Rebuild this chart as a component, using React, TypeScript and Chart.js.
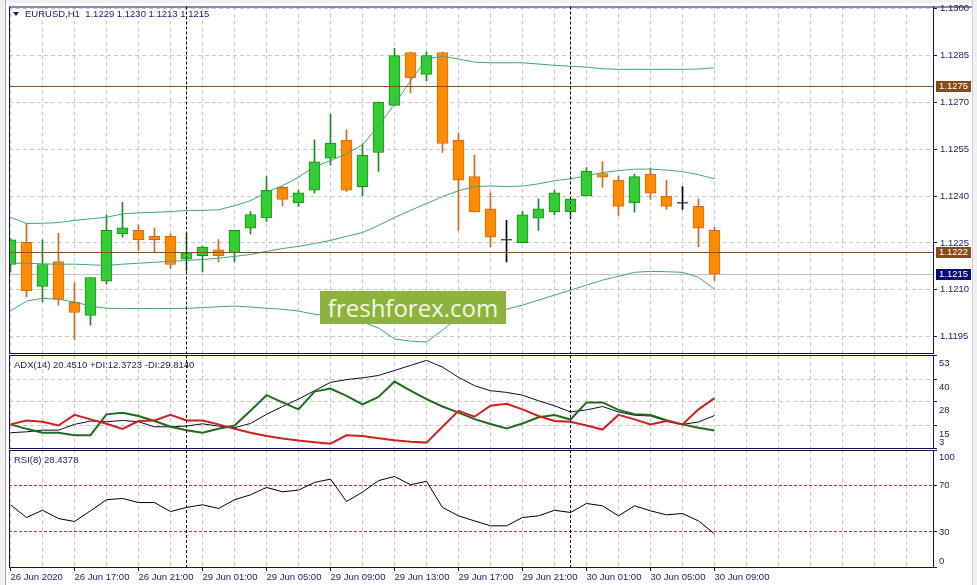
import React, { useEffect, useRef } from 'react';
import { Chart, registerables } from 'chart.js';

Chart.register(...registerables);

// ---------------- data ----------------
const symbolName = 'EURUSD';
const timeframe = 'H1';
const timeLabels: string[] = [
  '26 Jun 2020', '26 Jun 17:00', '26 Jun 21:00', '29 Jun 01:00', '29 Jun 05:00', '29 Jun 09:00',
  '29 Jun 13:00', '29 Jun 17:00', '29 Jun 21:00', '30 Jun 01:00', '30 Jun 05:00', '30 Jun 09:00',
];
const labelEvery = 4; // bars between time labels
const daySeparators = [11, 35]; // first bars of 29 Jun and 30 Jun

const openPrices = [
  1.12181, 1.12252, 1.12111, 1.12190, 1.12060, 1.12018, 1.12128, 1.12279, 1.12290, 1.12271,
  1.12271, 1.12198, 1.12209, 1.12228, 1.12219, 1.12297, 1.12330, 1.12428, 1.12378, 1.12419,
  1.12521, 1.12579, 1.12430, 1.12539, 1.12690, 1.12859, 1.12789, 1.12859, 1.12579, 1.12462,
  1.12359, 1.12260, 1.12251, 1.12329, 1.12349, 1.12349, 1.12400, 1.12472, 1.12451, 1.12378,
  1.12470, 1.12400, 1.12378, 1.12367, 1.12290,
];
const highPrices = [
  1.12265, 1.12311, 1.12260, 1.12281, 1.12122, 1.12139, 1.12340, 1.12380, 1.12309, 1.12298,
  1.12279, 1.12280, 1.12240, 1.12261, 1.12290, 1.12350, 1.12462, 1.12430, 1.12419, 1.12580,
  1.12661, 1.12611, 1.12566, 1.12700, 1.12872, 1.12860, 1.12860, 1.12860, 1.12601, 1.12531,
  1.12410, 1.12322, 1.12350, 1.12391, 1.12419, 1.12391, 1.12491, 1.12510, 1.12463, 1.12470,
  1.12490, 1.12451, 1.12430, 1.12391, 1.12300,
];
const lowPrices = [
  1.12157, 1.12077, 1.12061, 1.12051, 1.11940, 1.11987, 1.12118, 1.12268, 1.12226, 1.12218,
  1.12168, 1.12160, 1.12157, 1.12189, 1.12189, 1.12279, 1.12319, 1.12369, 1.12367, 1.12410,
  1.12499, 1.12415, 1.12401, 1.12479, 1.12690, 1.12730, 1.12768, 1.12539, 1.12290, 1.12349,
  1.12237, 1.12189, 1.12250, 1.12290, 1.12340, 1.12329, 1.12400, 1.12428, 1.12338, 1.12348,
  1.12389, 1.12357, 1.12357, 1.12237, 1.12130,
];
const closePrices = [
  1.12260, 1.12097, 1.12181, 1.12069, 1.12028, 1.12139, 1.12290, 1.12298, 1.12260, 1.12260,
  1.12181, 1.12219, 1.12237, 1.12209, 1.12290, 1.12341, 1.12419, 1.12389, 1.12410, 1.12509,
  1.12569, 1.12419, 1.12531, 1.12700, 1.12849, 1.12778, 1.12849, 1.12568, 1.12451, 1.12349,
  1.12268, 1.12260, 1.12340, 1.12359, 1.12410, 1.12391, 1.12480, 1.12460, 1.12367, 1.12462,
  1.12409, 1.12367, 1.12378, 1.12297, 1.12150,
];

const bbUpper = [
  1.12332, 1.12312, 1.12313, 1.12315, 1.12322, 1.12327, 1.12332, 1.12343, 1.12346, 1.12348,
  1.12350, 1.12354, 1.12354, 1.12356, 1.12369, 1.12385, 1.12412, 1.12433, 1.12460, 1.12494,
  1.12513, 1.12535, 1.12564, 1.12624, 1.12694, 1.12768, 1.12838, 1.12847, 1.12838, 1.12828,
  1.12826, 1.12826, 1.12826, 1.12822, 1.12818, 1.12815, 1.12812, 1.12807, 1.12805, 1.12805,
  1.12805, 1.12805, 1.12805, 1.12806, 1.12810,
];
const bbMiddle = [
  1.12185, 1.12185, 1.12183, 1.12182, 1.12182, 1.12180, 1.12178, 1.12182, 1.12185, 1.12188,
  1.12191, 1.12194, 1.12197, 1.12201, 1.12207, 1.12213, 1.12223, 1.12232, 1.12239, 1.12248,
  1.12258, 1.12271, 1.12283, 1.12306, 1.12331, 1.12354, 1.12376, 1.12398, 1.12417, 1.12430,
  1.12432, 1.12430, 1.12432, 1.12439, 1.12449, 1.12455, 1.12465, 1.12475, 1.12481, 1.12486,
  1.12486, 1.12483, 1.12478, 1.12468, 1.12455,
];
const bbLower = [
  1.12032, 1.12064, 1.12073, 1.12070, 1.12061, 1.12048, 1.12041, 1.12040, 1.12040, 1.12040,
  1.12040, 1.12041, 1.12043, 1.12046, 1.12048, 1.12045, 1.12041, 1.12038, 1.12032, 1.12022,
  1.12016, 1.12010, 1.11997, 1.11978, 1.11943, 1.11936, 1.11933, 1.11971, 1.12013, 1.12029,
  1.12035, 1.12038, 1.12051, 1.12067, 1.12083, 1.12099, 1.12115, 1.12131, 1.12143, 1.12156,
  1.12159, 1.12158, 1.12156, 1.12140, 1.12102,
];

const adxLine = [
  11.2, 11.7, 12.6, 12.6, 15.7, 17.5, 17.1, 17.8, 17.1, 14.4,
  14.4, 14.8, 16.0, 14.8, 13.9, 16.2, 21.1, 25.3, 29.3, 33.8,
  38.3, 39.8, 40.7, 42.0, 44.7, 47.4, 50.1, 46.5, 41.0, 36.5,
  33.8, 32.9, 31.4, 28.4, 25.7, 22.4, 23.5, 25.3, 22.4, 20.6,
  20.2, 17.5, 15.7, 17.0, 20.4510,
];
const plusDI = [
  15.7, 13.3, 11.2, 11.2, 9.9, 9.9, 21.1, 22.0, 20.2, 17.5,
  14.4, 12.6, 11.2, 13.3, 15.1, 23.0, 31.4, 27.5, 23.8, 33.3,
  35.0, 31.0, 26.5, 30.5, 38.7, 33.8, 29.3, 25.3, 22.0, 18.5,
  15.9, 13.5, 16.2, 19.5, 20.7, 18.3, 27.5, 27.5, 23.5, 21.2,
  20.7, 18.0, 15.7, 13.9, 12.3723,
];
const minusDI = [
  15.7, 17.8, 17.1, 15.1, 20.8, 18.4, 16.0, 13.3, 17.5, 17.8,
  20.8, 17.8, 17.8, 15.7, 13.3, 11.2, 9.4, 8.1, 7.0, 6.1,
  5.3, 9.8, 9.5, 8.3, 7.2, 6.4, 5.9, 14.4, 23.0, 19.8,
  25.7, 26.8, 23.8, 20.2, 17.5, 17.1, 15.1, 12.9, 20.8, 18.4,
  15.7, 17.5, 15.7, 23.8, 29.8140,
];
const rsiLine = [
  53.2, 42.3, 48.5, 41.4, 38.9, 48.0, 57.5, 58.6, 55.1, 55.1,
  47.4, 50.9, 53.2, 50.0, 57.5, 61.7, 68.0, 64.3, 65.7, 72.3,
  75.1, 56.0, 64.0, 73.8, 77.4, 70.3, 73.2, 50.9, 43.7, 39.4,
  35.2, 35.2, 42.3, 43.7, 48.5, 46.6, 54.3, 52.3, 43.7, 52.3,
  48.0, 44.6, 45.7, 39.4, 28.4378,
];

const priceTicks = [1.13, 1.1285, 1.127, 1.1255, 1.124, 1.1225, 1.121, 1.1195];
const priceMax = 1.13006;
const priceMin = 1.11898;
const levelLines = [1.1275, 1.1222];
const adxTicks = [53, 40, 28, 15, 3];
const rsiTicks = [100, 70, 30, 0];
const rsiLevels = [70, 30];

// ---------------- style / layout ----------------
const W = 977;
const H = 585;
const LEFT = 9;
const AXIS_W = 44;
const BAR_PX = 16;
const X_MIN = -1.5 / BAR_PX;
const X_MAX = X_MIN + (W - AXIS_W - LEFT) / BAR_PX;
const MAIN = { top: 5, bottom: 353 };
const ADXP = { top: 355, bottom: 448 };
const RSIP = { top: 450, bottom: 567 };
const TIME_AXIS_H = 18;

const NAVY = '#1c1c64';
const FRAME = '#12125e';
const GRID = '#c8c8c8';
const FONT = '"Liberation Sans", Arial, sans-serif';
const FONT_PX = 9.5;
const GREEN_FILL = '#32cd32';
const GREEN_EDGE = '#1f8a1f';
const ORANGE_FILL = '#ff8c00';
const ORANGE_EDGE = '#d2691e';
const BAND = '#3fa877';
const LEVEL_COLOR = '#86531f';
const TAG_BROWN = '#8a4b1c';
const TAG_NAVY = '#0a0a78';
const BID_COLOR = '#c4c4c4';

const crisp = (v: number) => Math.floor(v) + 0.5;
const series = (arr: number[]) => arr.map((y, i) => ({ x: i, y }));
const isLabelBar = (v: number) => v % labelEvery === 0 && v / labelEvery < timeLabels.length;

function xScale(withLabels: boolean, height: number): any {
  return {
    type: 'linear',
    min: X_MIN,
    max: X_MAX,
    offset: false,
    afterBuildTicks: (s: any) => {
      const t: any[] = [];
      for (let v = 0; v <= X_MAX; v += 2) t.push({ value: v });
      s.ticks = t;
    },
    afterFit: (s: any) => {
      s.height = height;
      s.paddingLeft = 0;
      s.paddingRight = 0;
    },
    border: { display: false, dash: [4, 3] },
    grid: {
      display: true,
      drawOnChartArea: true,
      offset: false,
      color: GRID,
      lineWidth: 1,
      drawTicks: withLabels,
      tickLength: 4,
      tickWidth: 1,
      tickBorderDash: [],
      tickColor: (c: any) => (c.tick && isLabelBar(c.tick.value) ? FRAME : 'rgba(0,0,0,0)'),
    },
    ticks: {
      display: withLabels,
      autoSkip: false,
      maxRotation: 0,
      minRotation: 0,
      align: 'start',
      padding: 1,
      color: NAVY,
      font: { family: FONT, size: FONT_PX },
      callback: (v: any) => (isLabelBar(Number(v)) ? timeLabels[Number(v) / labelEvery] : ''),
    },
  };
}

function yScale(min: number, max: number, ticks: number[], showLabels: boolean, gridOn: boolean, fmt?: (v: number) => string): any {
  return {
    type: 'linear',
    position: 'right',
    min,
    max,
    afterBuildTicks: (s: any) => {
      s.ticks = ticks.map((v) => ({ value: v }));
    },
    afterFit: (s: any) => {
      s.width = AXIS_W;
      s.paddingTop = 0;
      s.paddingBottom = 0;
    },
    border: { display: false, dash: [4, 3] },
    grid: {
      display: true,
      drawOnChartArea: gridOn,
      color: GRID,
      lineWidth: 1,
      drawTicks: true,
      tickLength: 4,
      tickWidth: 1,
      tickBorderDash: [],
      tickColor: FRAME,
    },
    ticks: {
      display: showLabels,
      padding: 3,
      color: NAVY,
      font: { family: FONT, size: FONT_PX },
      callback: (v: any) => (fmt ? fmt(Number(v)) : String(v)),
    },
  };
}

function baseOptions(area: { top: number; bottom: number }, xHeight: number, xs: any, ys: any): any {
  return {
    responsive: false,
    animation: false,
    events: [],
    layout: { padding: { left: LEFT, right: 0, top: area.top, bottom: H - area.bottom - xHeight } },
    plugins: { legend: { display: false }, tooltip: { enabled: false } },
    scales: { x: xs, y: ys },
  };
}

function drawFrame(chart: any, extendTop: boolean) {
  const { ctx, chartArea: a } = chart;
  ctx.save();
  ctx.strokeStyle = FRAME;
  ctx.lineWidth = 1;
  ctx.setLineDash([]);
  ctx.strokeRect(a.left + 0.5, a.top + 0.5, a.right - a.left, a.bottom - a.top);
  if (extendTop) {
    ctx.beginPath();
    ctx.moveTo(a.right, a.top + 0.5);
    ctx.lineTo(W - 5, a.top + 0.5);
    ctx.stroke();
  }
  ctx.restore();
}

function drawSeparators(chart: any) {
  const { ctx, chartArea: a, scales } = chart;
  ctx.save();
  ctx.strokeStyle = '#000';
  ctx.lineWidth = 1;
  ctx.setLineDash([3, 2]);
  daySeparators.forEach((i) => {
    const px = crisp(scales.x.getPixelForValue(i));
    ctx.beginPath();
    ctx.moveTo(px, a.top);
    ctx.lineTo(px, a.bottom);
    ctx.stroke();
  });
  ctx.restore();
}

function drawRightLabels(chart: any, values: number[], offset: number) {
  const { ctx, chartArea: a, scales } = chart;
  ctx.save();
  ctx.font = `${FONT_PX}px ${FONT}`;
  ctx.fillStyle = NAVY;
  ctx.textAlign = 'left';
  ctx.textBaseline = 'middle';
  values.forEach((v) => {
    const py = Math.max(a.top + 7, Math.min(a.bottom - 6, scales.y.getPixelForValue(v) + offset));
    ctx.fillText(String(v), a.right + 6, py);
  });
  ctx.restore();
}

export default function App() {
  const mainRef = useRef<HTMLCanvasElement>(null);
  const adxRef = useRef<HTMLCanvasElement>(null);
  const rsiRef = useRef<HTMLCanvasElement>(null);

  const last = openPrices.length - 1;
  const bidPrice = closePrices[last];

  useEffect(() => {
    const charts: Chart[] = [];
    const idx = openPrices.map((_, i) => i);
    const bodyIdx = idx.filter((i) => openPrices[i] !== closePrices[i]);
    const dojiIdx = idx.filter((i) => openPrices[i] === closePrices[i]);

    const mainDecor = {
      id: 'mainDecor',
      beforeDatasetsDraw(chart: any) {
        const { ctx, chartArea: a, scales } = chart;
        ctx.save();
        ctx.strokeStyle = BID_COLOR;
        ctx.lineWidth = 1;
        const py = crisp(scales.y.getPixelForValue(bidPrice));
        ctx.beginPath();
        ctx.moveTo(a.left, py);
        ctx.lineTo(a.right, py);
        ctx.stroke();
        ctx.restore();
      },
      afterDatasetsDraw(chart: any) {
        const { ctx, chartArea: a, scales } = chart;
        ctx.save();
        ctx.strokeStyle = LEVEL_COLOR;
        ctx.lineWidth = 1;
        levelLines.forEach((v) => {
          const py = crisp(scales.y.getPixelForValue(v));
          ctx.beginPath();
          ctx.moveTo(a.left, py);
          ctx.lineTo(a.right, py);
          ctx.stroke();
        });
        ctx.restore();
        drawSeparators(chart);
      },
      afterDraw(chart: any) {
        drawFrame(chart, true);
        const { ctx, chartArea: a, scales } = chart;
        const tags = [
          ...levelLines.map((v) => ({ v, bg: TAG_BROWN })),
          { v: bidPrice, bg: TAG_NAVY },
        ];
        ctx.save();
        ctx.font = `${FONT_PX}px ${FONT}`;
        ctx.textAlign = 'left';
        ctx.textBaseline = 'middle';
        tags.forEach((t) => {
          const py = Math.floor(scales.y.getPixelForValue(t.v));
          ctx.fillStyle = t.bg;
          ctx.fillRect(a.right + 3, py - 5, 35, 11);
          ctx.fillStyle = '#ffffff';
          ctx.fillText(t.v.toFixed(4), a.right + 6, py + 0.5);
        });
        ctx.restore();
      },
    };

    if (mainRef.current) {
      charts.push(
        new Chart(mainRef.current, {
          type: 'bar',
          data: {
            datasets: [
              { type: 'line', label: 'BB upper', data: series(bbUpper), borderColor: BAND, borderWidth: 1, pointRadius: 0, tension: 0, order: 1 } as any,
              { type: 'line', label: 'BB middle', data: series(bbMiddle), borderColor: BAND, borderWidth: 1, pointRadius: 0, tension: 0, order: 1 } as any,
              { type: 'line', label: 'BB lower', data: series(bbLower), borderColor: BAND, borderWidth: 1, pointRadius: 0, tension: 0, order: 1 } as any,
              {
                type: 'line',
                label: 'doji',
                data: dojiIdx.map((i) => ({ x: i, y: closePrices[i] })),
                showLine: false,
                pointStyle: 'line',
                pointRadius: 5.5,
                pointBorderColor: '#000',
                pointBackgroundColor: '#000',
                pointBorderWidth: 1,
                borderColor: '#000',
                order: 2,
              } as any,
              {
                type: 'bar',
                label: 'bodies',
                data: bodyIdx.map((i) => ({ x: i, y: [openPrices[i], closePrices[i]] })),
                backgroundColor: bodyIdx.map((i) => (closePrices[i] > openPrices[i] ? GREEN_FILL : ORANGE_FILL)),
                borderColor: bodyIdx.map((i) => (closePrices[i] > openPrices[i] ? GREEN_EDGE : ORANGE_EDGE)),
                borderWidth: 1,
                borderSkipped: false,
                barThickness: 11,
                maxBarThickness: 11,
                grouped: false,
                order: 3,
              } as any,
              {
                type: 'bar',
                label: 'wicks',
                data: idx.map((i) => ({ x: i, y: [lowPrices[i], highPrices[i]] })),
                backgroundColor: idx.map((i) =>
                  closePrices[i] === openPrices[i] ? '#000' : closePrices[i] > openPrices[i] ? GREEN_EDGE : ORANGE_EDGE
                ),
                borderWidth: 0,
                barThickness: 1,
                maxBarThickness: 1,
                grouped: false,
                order: 4,
              } as any,
            ],
          },
          options: baseOptions(MAIN, 0, xScale(false, 0), yScale(priceMin, priceMax, priceTicks, true, true, (v) => v.toFixed(4))),
          plugins: [mainDecor],
        })
      );
    }

    if (adxRef.current) {
      charts.push(
        new Chart(adxRef.current, {
          type: 'line',
          data: {
            datasets: [
              { label: '-DI', data: series(minusDI), borderColor: '#d41f1f', borderWidth: 2, pointRadius: 0, tension: 0, order: 1 },
              { label: '+DI', data: series(plusDI), borderColor: '#1f6e1f', borderWidth: 2, pointRadius: 0, tension: 0, order: 2 },
              { label: 'ADX', data: series(adxLine), borderColor: '#0a0a2e', borderWidth: 1, pointRadius: 0, tension: 0, order: 3 },
            ] as any,
          },
          options: baseOptions(ADXP, 0, xScale(false, 0), yScale(adxTicks[adxTicks.length - 1], adxTicks[0], adxTicks, false, true)),
          plugins: [
            {
              id: 'adxDecor',
              afterDatasetsDraw(chart: any) {
                drawSeparators(chart);
              },
              afterDraw(chart: any) {
                drawFrame(chart, false);
                drawRightLabels(chart, adxTicks, 8.5);
              },
            },
          ],
        })
      );
    }

    if (rsiRef.current) {
      charts.push(
        new Chart(rsiRef.current, {
          type: 'line',
          data: {
            datasets: [
              { label: 'RSI', data: series(rsiLine), borderColor: '#000', borderWidth: 1, pointRadius: 0, tension: 0 },
            ] as any,
          },
          options: baseOptions(RSIP, TIME_AXIS_H, xScale(true, TIME_AXIS_H), yScale(0, 100, rsiTicks, false, false)),
          plugins: [
            {
              id: 'rsiDecor',
              beforeDatasetsDraw(chart: any) {
                const { ctx, chartArea: a, scales } = chart;
                ctx.save();
                ctx.strokeStyle = '#c43030';
                ctx.lineWidth = 1;
                ctx.setLineDash([3, 2]);
                rsiLevels.forEach((v) => {
                  const py = crisp(scales.y.getPixelForValue(v));
                  ctx.beginPath();
                  ctx.moveTo(a.left, py);
                  ctx.lineTo(a.right, py);
                  ctx.stroke();
                });
                ctx.restore();
              },
              afterDatasetsDraw(chart: any) {
                drawSeparators(chart);
              },
              afterDraw(chart: any) {
                drawFrame(chart, false);
                drawRightLabels(chart, rsiTicks, 0);
              },
            },
          ],
        })
      );
    }

    return () => charts.forEach((c) => c.destroy());
  }, []);

  const headerText = `${symbolName},${timeframe}  ${openPrices[last].toFixed(4)} ${highPrices[last].toFixed(4)} ${lowPrices[last].toFixed(4)} ${closePrices[last].toFixed(4)}`;
  const adxText = `ADX(14) ${adxLine[last].toFixed(4)} +DI:${plusDI[last].toFixed(4)} -DI:${minusDI[last].toFixed(4)}`;
  const rsiText = `RSI(8) ${rsiLine[last].toFixed(4)}`;

  const textStyle: React.CSSProperties = {
    position: 'absolute',
    fontFamily: FONT,
    fontSize: FONT_PX,
    lineHeight: '12px',
    color: NAVY,
    whiteSpace: 'pre',
  };
  const canvasStyle: React.CSSProperties = { position: 'absolute', left: 0, top: 0, width: W, height: H };

  return (
    <div style={{ position: 'absolute', left: 0, top: 0, width: W, height: H, background: '#ffffff', overflow: 'hidden' }}>
      <div style={{ position: 'absolute', left: 0, top: 0, width: W, height: 3, background: '#f0f0f0' }} />
      <div style={{ position: 'absolute', left: 0, top: 0, width: 5, height: H, background: '#f0f0f0', borderRight: '1px solid #a8a8a8' }} />
      <div style={{ position: 'absolute', left: W - 5, top: 0, width: 5, height: H, background: '#f0f0f0', borderLeft: '1px solid #d0d0d0' }} />
      <canvas ref={mainRef} width={W} height={H} style={canvasStyle} />
      <canvas ref={adxRef} width={W} height={H} style={canvasStyle} />
      <canvas ref={rsiRef} width={W} height={H} style={canvasStyle} />
      <div
        style={{
          position: 'absolute',
          left: 13,
          top: 12,
          width: 0,
          height: 0,
          borderLeft: '3px solid transparent',
          borderRight: '3px solid transparent',
          borderTop: `4px solid ${NAVY}`,
        }}
      />
      <div style={{ ...textStyle, left: 25, top: 8 }}>{headerText}</div>
      <div style={{ ...textStyle, left: 14, top: 359 }}>{adxText}</div>
      <div style={{ ...textStyle, left: 14, top: 454 }}>{rsiText}</div>
      <div
        style={{
          position: 'absolute',
          left: 320,
          top: 291,
          width: 186,
          height: 33,
          background: '#8cb43c',
          color: '#f4f8e8',
          fontFamily: '"Open Sans", "Noto Sans", sans-serif',
          fontSize: 24,
          display: 'flex',
          alignItems: 'center',
          justifyContent: 'center',
        }}
      >
        freshforex.com
      </div>
    </div>
  );
}
